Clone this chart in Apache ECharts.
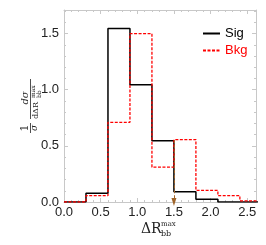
<!DOCTYPE html>
<html><head><meta charset="utf-8">
<script src="https://cdn.jsdelivr.net/npm/echarts@6/dist/echarts.min.js"></script>
<style>html,body{margin:0;padding:0;background:#fff}#c{width:266px;height:245px}</style>
</head><body><div id="c"></div>
<script>
var binEdges = [0.0, 0.3, 0.6, 0.9, 1.2, 1.5, 1.8, 2.1, 2.4, 2.7];
var sigValues = [0.0, 0.078, 1.545, 1.045, 0.545, 0.092, 0.024, 0.0, 0.0];
var bkgValues = [0.0, 0.056, 0.71, 1.50, 0.31, 0.556, 0.104, 0.056, 0.01];
var xTicks = [0.0, 0.5, 1.0, 1.5, 2.0, 2.5];
var yTicks = [0.0, 0.5, 1.0, 1.5];
var arrowX = 1.5, arrowTop = 0.55;

function stepData(vals){
  var d = [];
  for (var i = 0; i < vals.length; i++) d.push([binEdges[i], vals[i]]);
  d.push([binEdges[vals.length], vals[vals.length-1]]);
  return d;
}
var FONT = '"Liberation Sans", Arial, sans-serif';
var SERIF = '"DejaVu Serif", serif';
var chart = echarts.init(document.getElementById('c'), null, {renderer:'canvas'});
var frame = '#c8c8c8';
function xAx(pos, labels){
  return {type:'value', position:pos, min:0, max:2.62, interval:0.5,
    axisLine:{show:true, onZero:false, lineStyle:{color:frame}},
    axisTick:{show:true, inside:true, length:4, lineStyle:{color:frame}},
    minorTick:{show:true, splitNumber:5, length:2, lineStyle:{color:frame}},
    splitLine:{show:false},
    axisLabel:{show:labels, fontFamily:FONT, fontSize:13, color:'#222', margin:4,
      formatter:function(v){return xTicks.indexOf(Math.round(v*10)/10)>=0? v.toFixed(1):'';}}};
}
function yAx(pos, labels){
  return {type:'value', position:pos, min:0, max:1.71, interval:0.5,
    axisLine:{show:true, onZero:false, lineStyle:{color:frame}},
    axisTick:{show:true, inside:true, length:4, lineStyle:{color:frame}},
    minorTick:{show:true, splitNumber:5, length:2, lineStyle:{color:frame}},
    splitLine:{show:false},
    axisLabel:{show:labels, fontFamily:FONT, fontSize:13, color:'#222', margin:5,
      formatter:function(v){return yTicks.indexOf(Math.round(v*10)/10)>=0? v.toFixed(1):'';}}};
}
function t(txt, x, y, size, extra){
  return {type:'text', x:x, y:y, style:Object.assign({text:txt, font:size+'px '+SERIF, fill:'#222', align:'left', verticalAlign:'middle'}, extra||{})};
}
chart.setOption({
  animation:false,
  grid:{left:64, right:10, top:10, bottom:43},
  legend:{orient:'vertical', left:197, top:22, itemWidth:17, itemHeight:10, itemGap:4,
    itemStyle:{opacity:0, borderWidth:0},
    data:[{name:'Sig', textStyle:{color:'#000'}},{name:'Bkg', textStyle:{color:'#ff0000'}}],
    textStyle:{fontFamily:FONT, fontSize:13}},
  xAxis:[xAx('bottom', true), xAx('top', false)],
  yAxis:[yAx('left', true), yAx('right', false)],
  series:[
    {name:'Sig', type:'line', step:'end', data:stepData(sigValues), symbol:'none',
      lineStyle:{color:'#000', width:1.5}, itemStyle:{color:'#000'}, z:3},
    {name:'Bkg', type:'line', step:'end', data:stepData(bkgValues), symbol:'none',
      lineStyle:{color:'#ff0000', width:1.3, type:[3,1.5]}, itemStyle:{color:'#ff0000'}, z:4,
      markLine:{silent:true, symbol:['none','triangle'], symbolSize:[5,8], label:{show:false},
        lineStyle:{color:'#a0652a', type:[3,2], width:1},
        data:[[{coord:[arrowX, arrowTop]},{coord:[arrowX, 0]}]]}}
  ],
  graphic:[
    {type:'text', left:141, top:222, style:{text:'ΔR', font:'14px '+SERIF, fill:'#222'}},
    {type:'text', left:161, top:221, style:{text:'max', font:'7px '+SERIF, fill:'#222'}},
    {type:'text', left:161, top:230, style:{text:'bb', font:'8px '+SERIF, fill:'#222'}},
    {type:'group', x:33, y:103, rotation:Math.PI/2, children:[
      t('1', -25, -8, 11, {align:'center'}),
      {type:'line', shape:{x1:-30, y1:-2.5, x2:-20, y2:-2.5}, style:{stroke:'#222', lineWidth:0.8}},
      t('σ', -25, 2, 9, {align:'center', font:'italic 9px '+SERIF}),
      t('dσ', 5, -8, 10, {align:'center', font:'italic 10px '+SERIF}),
      {type:'line', shape:{x1:-16, y1:-2.5, x2:24, y2:-2.5}, style:{stroke:'#222', lineWidth:0.8}},
      t('dΔR', -16, 3, 8),
      t('max', 5, 0, 6),
      t('bb', 5, 6, 6)
    ]}
  ]
});
</script></body></html>
